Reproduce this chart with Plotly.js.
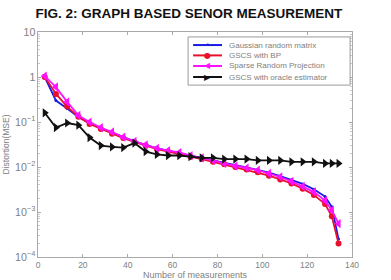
<!DOCTYPE html>
<html><head><meta charset="utf-8">
<script src="https://cdn.plot.ly/plotly-3.0.1.min.js"></script>
<style>html,body{margin:0;padding:0;background:#fff}#c{width:391px;height:280px}</style>
</head><body><div id="c"></div>
<script>
const xs = [3,8,13,18,23,28,33,38,43,48,53,58,63,68,73,78,83,88,93,98,103,108,113,118,123,128,131,134];
const gaussian = [1.0,0.3,0.2,0.13,0.095,0.072,0.058,0.046,0.037,0.031,0.026,0.023,0.02,0.018,0.016,0.014,0.0125,0.011,0.0098,0.0087,0.0075,0.0063,0.0052,0.0042,0.0032,0.0022,0.0013,0.00025];
const gscsBP = [1.0,0.42,0.22,0.13,0.09,0.07,0.055,0.044,0.036,0.03,0.025,0.022,0.019,0.017,0.015,0.013,0.0115,0.01,0.0088,0.0076,0.0064,0.0053,0.0043,0.0033,0.0024,0.0015,0.0008,0.0002];
const sparseRP = [1.05,0.6,0.28,0.14,0.1,0.075,0.06,0.046,0.037,0.031,0.026,0.023,0.021,0.018,0.016,0.014,0.012,0.0105,0.0095,0.0085,0.0072,0.006,0.0048,0.0037,0.0028,0.0018,0.0011,0.00055];
const oracle = [0.16,0.075,0.095,0.085,0.045,0.03,0.028,0.027,0.034,0.022,0.019,0.018,0.018,0.017,0.016,0.016,0.015,0.015,0.015,0.014,0.014,0.014,0.013,0.013,0.013,0.012,0.012,0.012];
const names = ["Gaussian random matrix","GSCS with BP","Sparse Random Projection","GSCS with oracle estimator"];
const colors = ['#1a1ae6','#e8102a','#ff10ff','#111111'];
const glyphs = ['•','●','◀','▶'];
const xTicks = [0,20,40,60,80,100,120,140];

const traces = [
  {x:xs,y:gaussian,name:names[0],mode:'lines+markers',line:{color:colors[0],width:1.8},marker:{symbol:'circle',size:3,color:colors[0]}},
  {x:xs,y:gscsBP,name:names[1],mode:'lines+markers',line:{color:colors[1],width:1.8},marker:{symbol:'circle',size:6,color:colors[1]}},
  {x:xs,y:sparseRP,name:names[2],mode:'lines+markers',line:{color:colors[2],width:1.8},marker:{symbol:'triangle-left',size:8,color:colors[2]}},
  {x:xs,y:oracle,name:names[3],mode:'lines+markers',line:{color:colors[3],width:1.8},marker:{symbol:'triangle-right',size:8,color:colors[3]}}
];
const fam = 'Liberation Sans, Arial, sans-serif';
const axfont = {family:fam,size:8.5,color:'#808080'};

// manual compact legend (paper coords within plot area)
const shapes = [{type:'rect',xref:'paper',yref:'paper',x0:0.478,x1:0.994,y0:0.764,y1:0.978,line:{color:'#999',width:1},fillcolor:'#fff',layer:'above'}];
const annotations = [];
const rowY = [0.942,0.896,0.849,0.800];
names.forEach((n,i)=>{
  shapes.push({type:'line',xref:'paper',yref:'paper',x0:0.494,x1:0.586,y0:rowY[i],y1:rowY[i],line:{color:colors[i],width:2},layer:'above'});
  annotations.push({xref:'paper',yref:'paper',x:0.54,y:rowY[i],text:glyphs[i],showarrow:false,xanchor:'center',yanchor:'middle',
    font:{family:'DejaVu Sans',size:i===0?9:8,color:colors[i]}});
  annotations.push({xref:'paper',yref:'paper',x:0.602,y:rowY[i],text:n,showarrow:false,xanchor:'left',yanchor:'middle',
    font:{family:fam,size:8,color:'#808080'}});
});

const layout = {
  width:391,height:280,
  paper_bgcolor:'#ffffff',plot_bgcolor:'#ffffff',
  margin:{l:38,r:39,t:32,b:23},
  title:{text:'<b>FIG. 2: GRAPH BASED SENOR MEASUREMENT</b>',x:0.483,xanchor:'center',y:0.953,yanchor:'middle',
    font:{family:fam,size:13.5,color:'#111'}},
  showlegend:false,
  shapes:shapes,annotations:annotations,
  xaxis:{range:[0,140],tickvals:xTicks,ticktext:xTicks.map(String),ticks:'inside',ticklen:3,tickcolor:'#aaa',
    showline:true,linecolor:'#aaa',linewidth:1,mirror:'ticks',showgrid:false,zeroline:false,tickfont:axfont,
    title:{text:'Number of measurements',font:{family:fam,size:9,color:'#808080'},standoff:1}},
  yaxis:{type:'log',range:[-4,1],dtick:1,exponentformat:'power',showexponent:'all',ticks:'inside',ticklen:3,tickcolor:'#aaa',
    minor:{ticks:'inside',ticklen:2,tickcolor:'#ccc',showgrid:false},
    showline:true,linecolor:'#aaa',linewidth:1,mirror:'ticks',showgrid:false,zeroline:false,tickfont:axfont,
    title:{text:'Distortion(MSE)',font:{family:fam,size:8.5,color:'#808080'},standoff:4}}
};
Plotly.newPlot('c',traces,layout,{displayModeBar:false,staticPlot:true});
</script></body></html>
